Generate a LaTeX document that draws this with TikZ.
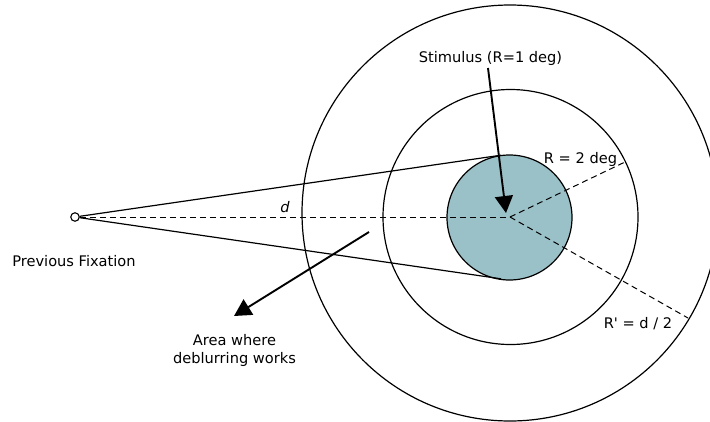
\documentclass[tikz,border=0pt]{standalone}
\usepackage{fontspec}
\setmainfont{DejaVu Sans}[Ligatures=TeXOff]
\usetikzlibrary{arrows.meta}
\definecolor{stimfill}{RGB}{155,193,200}
\begin{document}
\begin{tikzpicture}[x=1pt,y=-1pt,
  lbl/.style={font=\fontsize{14.6}{18}\selectfont, inner sep=0pt, anchor=base},
  ring/.style={circle, draw, line width=1.2pt, inner sep=0pt},
  guide/.style={dash pattern=on 6pt off 4pt, line width=1pt},
  tline/.style={line width=1.2pt},
  pointer/.style={line width=1.9pt, -{Triangle[length=17pt,width=18pt]}}]
\useasboundingbox (0,0) rectangle (710,421);
% circles
\node[ring, minimum size=416pt] (outer) at (510,213) {};
\node[ring, minimum size=255pt] (mid) at (510.5,217) {};
\node[ring, fill=stimfill, minimum size=125pt] (stim) at (509.5,217.5) {};
\coordinate (c) at (510,217);
\node[circle, draw, line width=1.1pt, minimum size=8.5pt, inner sep=0pt] (pf) at (75,217) {};
% tangent lines
\coordinate (t1) at (501,155.2);
\coordinate (t2) at (501,278.8);
\draw[tline] (pf) -- (t1);
\draw[tline] (pf) -- (t2);
% dashed lines
\coordinate (r2) at (625,162);
\coordinate (rp) at (688,318);
\draw[guide] (pf) -- (c);
\draw[guide] (c) -- (r2);
\draw[guide] (c) -- (rp);
% arrows
\coordinate (s0) at (488,68);
\coordinate (s1) at (506,213);
\draw[pointer] (s0) -- (s1);
\coordinate (a0) at (369,232);
\coordinate (a1) at (234,316);
\draw[pointer] (a0) -- (a1);
% labels
\node[lbl] (stimlbl) at (490.5,62.5) {Stimulus (R=1 deg)};
\node[lbl] (rlbl) at (580.5,163) {R = 2 deg};
\node[lbl] (rplbl) at (638,328) {R' = d / 2};
\node[lbl] (dlbl) at (285,212) {\itshape d};
\node[lbl] (pflbl) at (74,266) {Previous Fixation};
\node[lbl] (area1) at (234.5,345) {Area where};
\node[lbl] (area2) at (234.5,363.5) {deblurring works};
\end{tikzpicture}
\end{document}
